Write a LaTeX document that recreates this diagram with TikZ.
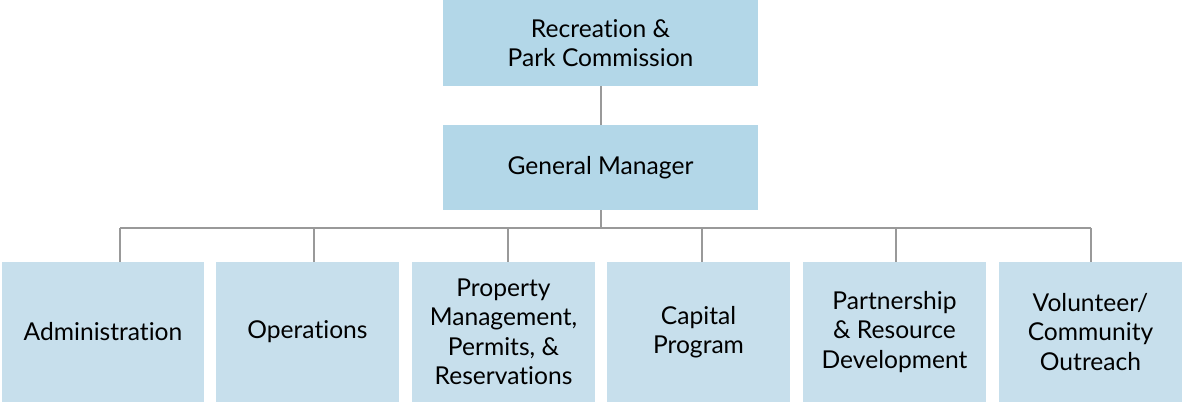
\documentclass[tikz,border=0pt]{standalone}
\usepackage{fontspec}
\setmainfont{Lato}[Ligatures=NoCommon]
\usetikzlibrary{positioning}

\definecolor{topblue}{HTML}{B3D7E8}
\definecolor{unitblue}{HTML}{C7DFEC}
\definecolor{linkgray}{HTML}{999999}

\begin{document}
\begin{tikzpicture}[x=0.5pt, y=0.5pt,
  box/.style={inner sep=0pt, align=center, font=\fontsize{12.3}{14.75}\selectfont},
  head/.style={box, fill=topblue, minimum width=157.5pt, minimum height=42.5pt},
  unit/.style={box, fill=unitblue, minimum width=91.5pt, minimum height=70pt},
  link/.style={draw=linkgray, line width=1pt}]
  \useasboundingbox (0,0) rectangle (1182,402);
  % top of the chart
  \node[head, minimum height=43pt] (comm) at (600.5,359) {Recreation \&\\Park Commission};
  \node[head] (gm) at (600.5,234.5) {General Manager};
  \draw[link] (comm) -- (gm);
  % the six divisions
  \node[unit, minimum width=101pt] (admin) at (103,70) {Administration};
  \node[unit] (ops)  at (307.5,70) {Operations};
  \node[unit] (prop) at (503.5,70) {Property\\Management,\\Permits, \&\\Reservations};
  \node[unit] (cap)  at (698.5,70) {Capital\\Program};
  \node[unit] (part) at (894.5,70) {Partnership\\\& Resource\\Development};
  \node[unit] (vol)  at (1090.5,70) {Volunteer/\\Community\\Outreach};
  % bus
  \coordinate (d1) at (120,174);
  \coordinate (d6) at (1091,174);
  \draw[link] (gm.south) -- (gm.south |- d1);
  \draw[link] (d1) -- (d6);
  \foreach \n/\x in {admin/120, ops/314, prop/508, cap/702, part/896, vol/1091}
    \draw[link] (\n.north -| \x,174) -- (\x,174);
\end{tikzpicture}
\end{document}
